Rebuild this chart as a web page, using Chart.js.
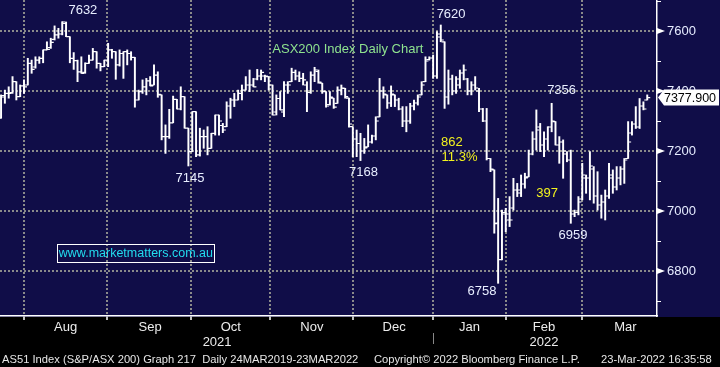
<!DOCTYPE html>
<html>
<head>
<meta charset="utf-8">
<script src="https://cdn.jsdelivr.net/npm/chart.js@4.4.1/dist/chart.umd.min.js"></script>
<style>
html, body { margin: 0; padding: 0; background: #000; }
#wrap { width: 720px; height: 367px; }
</style>
</head>
<body>
<div id="wrap"><canvas id="asx" width="720" height="367"></canvas></div>
<script>
// AS51 daily bars, late Jul 2021 -> 23 Mar 2022
const opens = [
  7310,7380,7392,7395,7431,7381,7417,7420,7492,7480,7503,7509,7537,7545,7572,7587,7590,7625,7581,7509,
  7501,7464,7462,7492,7503,7531,7492,7481,7503,7537,7531,7487,7525,7531,7525,7512,7370,7398,7414,7434,
  7420,7453,7387,7248,7248,7294,7372,7340,7381,7276,7198,7331,7187,7248,7248,7209,7259,7320,7285,7281,
  7350,7370,7370,7392,7403,7420,7420,7440,7450,7450,7448,7420,7330,7375,7330,7420,7431,7462,7450,7442,
  7420,7395,7453,7465,7426,7398,7355,7376,7359,7403,7409,7376,7281,7240,7225,7200,7214,7230,7250,7314,
  7400,7387,7360,7387,7370,7340,7300,7300,7350,7360,7387,7431,7505,7510,7450,7580,7564,7380,7440,7400,
  7420,7460,7440,7400,7420,7400,7340,7300,7175,7137,6960,6838,6990,6970,7010,7070,7060,7090,7114,7190,
  7240,7280,7220,7240,7280,7298,7220,7230,7190,7170,6990,6995,7040,7110,7110,7140,7050,7020,7030,7050,
  7110,7080,7110,7140,7175,7260,7290,7280,7350,7370
];
const highs = [
  7387,7403,7414,7448,7431,7420,7437,7509,7503,7514,7514,7537,7564,7576,7617,7609,7631,7630,7581,7528,
  7503,7514,7494,7520,7542,7531,7492,7503,7559,7539,7531,7537,7531,7537,7531,7512,7403,7437,7442,7448,
  7487,7464,7387,7287,7339,7383,7372,7414,7381,7276,7331,7331,7276,7270,7281,7259,7320,7320,7292,7364,
  7376,7392,7403,7420,7448,7470,7442,7472,7470,7453,7448,7420,7387,7398,7431,7431,7476,7470,7464,7459,
  7431,7464,7479,7470,7426,7398,7398,7376,7414,7420,7409,7376,7281,7270,7259,7242,7287,7253,7314,7442,
  7414,7387,7417,7387,7376,7348,7348,7359,7370,7387,7431,7514,7514,7520,7598,7620,7564,7470,7453,7448,
  7470,7487,7442,7431,7448,7409,7342,7342,7175,7137,7042,7003,7009,7048,7109,7092,7120,7126,7203,7264,
  7337,7292,7264,7281,7359,7298,7248,7237,7198,7203,7003,7048,7159,7120,7198,7148,7131,7053,7070,7159,
  7137,7148,7148,7175,7298,7298,7348,7375,7364,7387
];
const lows = [
  7309,7359,7376,7392,7370,7381,7392,7420,7459,7476,7492,7494,7537,7542,7570,7576,7587,7581,7494,7472,
  7431,7459,7459,7492,7503,7476,7467,7481,7481,7509,7439,7483,7442,7487,7503,7346,7370,7392,7387,7417,
  7420,7379,7237,7192,7242,7294,7340,7337,7276,7150,7198,7181,7183,7209,7187,7209,7253,7253,7261,7281,
  7309,7348,7370,7370,7403,7398,7414,7437,7437,7431,7403,7320,7320,7337,7314,7392,7431,7437,7431,7420,
  7331,7392,7431,7426,7392,7346,7353,7342,7359,7387,7376,7279,7181,7181,7168,7192,7214,7226,7237,7314,
  7376,7342,7348,7348,7337,7281,7264,7292,7337,7353,7387,7431,7503,7442,7442,7564,7342,7356,7387,7392,
  7409,7437,7387,7387,7403,7331,7298,7170,7131,6926,6759,6837,6931,6948,7003,7048,7048,7076,7114,7187,
  7203,7198,7181,7203,7264,7220,7159,7109,7164,6959,6981,6987,7037,7059,7037,7026,7003,6976,6970,7042,
  7059,7070,7087,7092,7175,7253,7275,7275,7337,7370
];
const closes = [
  7385,7392,7392,7431,7381,7417,7414,7492,7472,7503,7509,7537,7539,7562,7587,7590,7630,7581,7509,7501,
  7464,7459,7492,7503,7531,7492,7481,7503,7537,7531,7487,7525,7531,7525,7512,7370,7398,7414,7434,7417,
  7453,7389,7248,7248,7294,7372,7340,7381,7276,7198,7331,7187,7248,7248,7209,7259,7320,7300,7270,7350,
  7370,7370,7392,7403,7420,7420,7414,7450,7462,7450,7420,7320,7375,7337,7420,7420,7462,7450,7442,7437,
  7395,7453,7470,7430,7400,7350,7380,7346,7403,7410,7381,7290,7240,7225,7200,7210,7230,7250,7300,7400,
  7390,7360,7390,7370,7340,7300,7300,7350,7360,7380,7420,7500,7510,7450,7590,7570,7380,7440,7400,7440,
  7460,7470,7400,7420,7410,7340,7300,7175,7140,6958,6838,6995,6990,6970,7070,7070,7090,7110,7190,7240,
  7270,7220,7240,7280,7300,7220,7230,7200,7170,6990,6995,7030,7120,7110,7150,7050,7020,7030,7050,7120,
  7080,7110,7140,7170,7230,7290,7280,7350,7340,7378
];
const lastPrice = 7377.9;

// month boundaries (bar index) and label positions
const monthGrid = [6, 27.7, 49.7, 70.3, 92, 112.9, 132.1, 151.9];
const monthLabels = ['Aug', 'Sep', 'Oct', 'Nov', 'Dec', 'Jan', ['Feb', '2022'], 'Mar'];
const monthLabelPos = [16.9, 39.0, 60.1, 81.3, 102.8, 122.5, 142, 163.3];
const yearLabel2021 = ['', '2021'];
const yearPos2021 = 56.5;
const yTicks = [6700, 6800, 6900, 7000, 7100, 7200, 7300, 7400, 7500, 7600, 7700];

const navy = '#100d48';
const dotGrey = '#8a8a8a';
const font = "'Liberation Sans', Arial, sans-serif";

// x ticks: gridline ticks + label ticks
const xTickDefs = [];
monthGrid.forEach(v => xTickDefs.push({ v: v, kind: 'grid', label: '' }));
monthLabelPos.forEach((v, k) => xTickDefs.push({ v: v, kind: 'label', label: monthLabels[k] }));
xTickDefs.push({ v: yearPos2021, kind: 'label', label: yearLabel2021 });
xTickDefs.sort((a, b) => a.v - b.v);

const notes = [
  { text: '7632', i: 21.4, v: 7667, color: '#e8eeff' },
  { text: '7620', i: 117.7, v: 7656, color: '#e8eeff' },
  { text: '7145', i: 49.4, v: 7110, color: '#e8eeff' },
  { text: '7168', i: 94.8, v: 7127, color: '#e8eeff' },
  { text: '7356', i: 146.6, v: 7403, color: '#e8eeff' },
  { text: '6758', i: 125.8, v: 6732, color: '#e8eeff' },
  { text: '6959', i: 149.6, v: 6917, color: '#e8eeff' },
  { text: '862', i: 117.9, v: 7230, color: '#f2f21e' },
  { text: '11.3%', i: 119.9, v: 7177, color: '#f2f21e' },
  { text: '397', i: 142.8, v: 7058, color: '#f2f21e' },
  { text: 'ASX200 Index Daily Chart', i: 90.7, v: 7540, color: '#8fe38f' }
];

const bgPlugin = {
  id: 'bg',
  beforeDraw(chart) {
    const c = chart.ctx;
    c.save();
    c.fillStyle = '#000';
    c.fillRect(0, 0, chart.width, chart.height);
    c.fillStyle = navy;
    c.fillRect(0, 0, chart.width, chart.chartArea.bottom + 1);
    c.restore();
  }
};

// open (left) and close (right) ticks of each bar
const ohlcTicks = {
  id: 'ohlcTicks',
  afterDatasetsDraw(chart) {
    const { ctx, chartArea: a } = chart;
    const xs = chart.scales.x, ys = chart.scales.y;
    ctx.save();
    ctx.beginPath();
    ctx.rect(a.left, a.top, a.right - a.left, a.bottom - a.top);
    ctx.clip();
    ctx.strokeStyle = '#fff';
    ctx.lineWidth = 1.2;
    ctx.beginPath();
    opens.forEach((o, i) => {
      const px = xs.getPixelForValue(i);
      const yo = ys.getPixelForValue(o);
      const yc = ys.getPixelForValue(closes[i]);
      ctx.moveTo(px - 3, yo); ctx.lineTo(px, yo);
      ctx.moveTo(px, yc); ctx.lineTo(px + 3, yc);
    });
    ctx.stroke();
    ctx.restore();
  }
};

const decorations = {
  id: 'decorations',
  afterDraw(chart) {
    const { ctx, chartArea: a } = chart;
    const xs = chart.scales.x, ys = chart.scales.y;
    ctx.save();

    // chart texts
    ctx.textAlign = 'center';
    ctx.textBaseline = 'middle';
    ctx.font = '13px ' + font;
    notes.forEach(n => {
      ctx.fillStyle = n.color;
      ctx.fillText(n.text, xs.getPixelForValue(n.i), ys.getPixelForValue(n.v));
    });

    // website box
    const bx = xs.getPixelForValue(35.0), by = ys.getPixelForValue(6860);
    ctx.strokeStyle = '#fff';
    ctx.lineWidth = 1;
    ctx.strokeRect(Math.round(bx - 78) + 0.5, Math.round(by - 9) + 0.5, 157, 18);
    ctx.fillStyle = '#22dcee';
    ctx.font = '12.5px ' + font;
    ctx.fillText('www.marketmatters.com.au', bx + 1, by + 1);

    // right axis markers
    ctx.fillStyle = '#fff';
    ctx.strokeStyle = '#fff';
    yTicks.forEach(v => {
      const py = ys.getPixelForValue(v);
      if (v % 200 === 0) {
        ctx.beginPath();
        ctx.moveTo(a.right, py - 3);
        ctx.lineTo(a.right + 8, py);
        ctx.lineTo(a.right, py + 3);
        ctx.closePath();
        ctx.fill();
      } else {
        ctx.beginPath();
        ctx.moveTo(a.right, py + 0.5);
        ctx.lineTo(a.right + 4, py + 0.5);
        ctx.stroke();
      }
    });

    // last price flag
    const lp = ys.getPixelForValue(lastPrice);
    ctx.beginPath();
    ctx.moveTo(a.right + 1, lp);
    ctx.lineTo(a.right + 7, lp - 8);
    ctx.lineTo(719, lp - 8);
    ctx.lineTo(719, lp + 8);
    ctx.lineTo(a.right + 7, lp + 8);
    ctx.closePath();
    ctx.fillStyle = '#fff';
    ctx.fill();
    ctx.fillStyle = '#000';
    ctx.textAlign = 'center';
    ctx.font = '12.5px ' + font;
    ctx.fillText(lastPrice.toFixed(3), 690, lp + 1);

    // year separator
    ctx.strokeStyle = '#888';
    ctx.beginPath();
    const sx = Math.round(xs.getPixelForValue(monthGrid[5])) + 0.5;
    ctx.moveTo(sx, a.bottom + 17);
    ctx.lineTo(sx, a.bottom + 28);
    ctx.stroke();

    // footer
    ctx.fillStyle = '#e6e6e6';
    ctx.textAlign = 'left';
    ctx.textBaseline = 'alphabetic';
    ctx.font = '11.2px ' + font;
    ctx.fillText('AS51 Index (S&P/ASX 200) Graph 217  Daily 24MAR2019-23MAR2022', 2, 363);
    ctx.fillText('Copyright\u00A9 2022 Bloomberg Finance L.P.', 374, 363);
    ctx.fillText('23-Mar-2022 16:35:58', 601, 363);
    ctx.restore();
  }
};

const barData = lows.map((l, i) => ({ x: i, y: [l, highs[i]] }));

const noPad = s => { s.paddingLeft = 0; s.paddingRight = 0; s.paddingTop = 0; s.paddingBottom = 0; };

new Chart(document.getElementById('asx'), {
  type: 'bar',
  data: {
    datasets: [{
      data: barData,
      backgroundColor: '#ffffff',
      borderWidth: 0,
      barThickness: 1.3
    }]
  },
  options: {
    responsive: false,
    animation: false,
    layout: { padding: 0 },
    plugins: { legend: { display: false }, tooltip: { enabled: false } },
    scales: {
      x: {
        type: 'linear',
        position: 'bottom',
        offset: false,
        min: -0.275,
        max: 171.55,
        afterBuildTicks: s => { s.ticks = xTickDefs.map(t => ({ value: t.v })); },
        afterFit: s => { s.height = 51; noPad(s); },
        ticks: {
          autoSkip: false,
          maxRotation: 0,
          padding: 0,
          color: '#ececec',
          font: { family: font, size: 13, lineHeight: 1.15 },
          callback: (v, idx) => xTickDefs[idx] ? xTickDefs[idx].label : ''
        },
        grid: {
          offset: false,
          lineWidth: 2,
          tickLength: 4,
          tickWidth: 1.5,
          color: c => (xTickDefs[c.index] && xTickDefs[c.index].kind === 'grid') ? dotGrey : 'rgba(0,0,0,0)',
          tickColor: c => (xTickDefs[c.index] && xTickDefs[c.index].kind === 'grid') ? '#ffffff' : 'rgba(0,0,0,0)'
        },
        border: { display: true, color: '#ffffff', width: 1.5, dash: [2, 2] }
      },
      y: {
        type: 'linear',
        position: 'right',
        min: 6650,
        max: 7703.3,
        afterBuildTicks: s => { s.ticks = yTicks.map(v => ({ value: v })); },
        afterFit: s => { s.width = 63; noPad(s); },
        ticks: {
          padding: 2,
          color: '#e6ecff',
          font: { family: font, size: 13 },
          callback: v => (v % 200 === 0 ? String(v) : '')
        },
        grid: {
          lineWidth: 2,
          tickLength: 8,
          color: c => (c.tick && c.tick.value % 200 === 0) ? dotGrey : 'rgba(0,0,0,0)',
          tickColor: 'rgba(0,0,0,0)'
        },
        border: { display: true, color: '#ffffff', width: 1.5, dash: [2, 2] }
      }
    }
  },
  plugins: [bgPlugin, ohlcTicks, decorations]
});
</script>
</body>
</html>
